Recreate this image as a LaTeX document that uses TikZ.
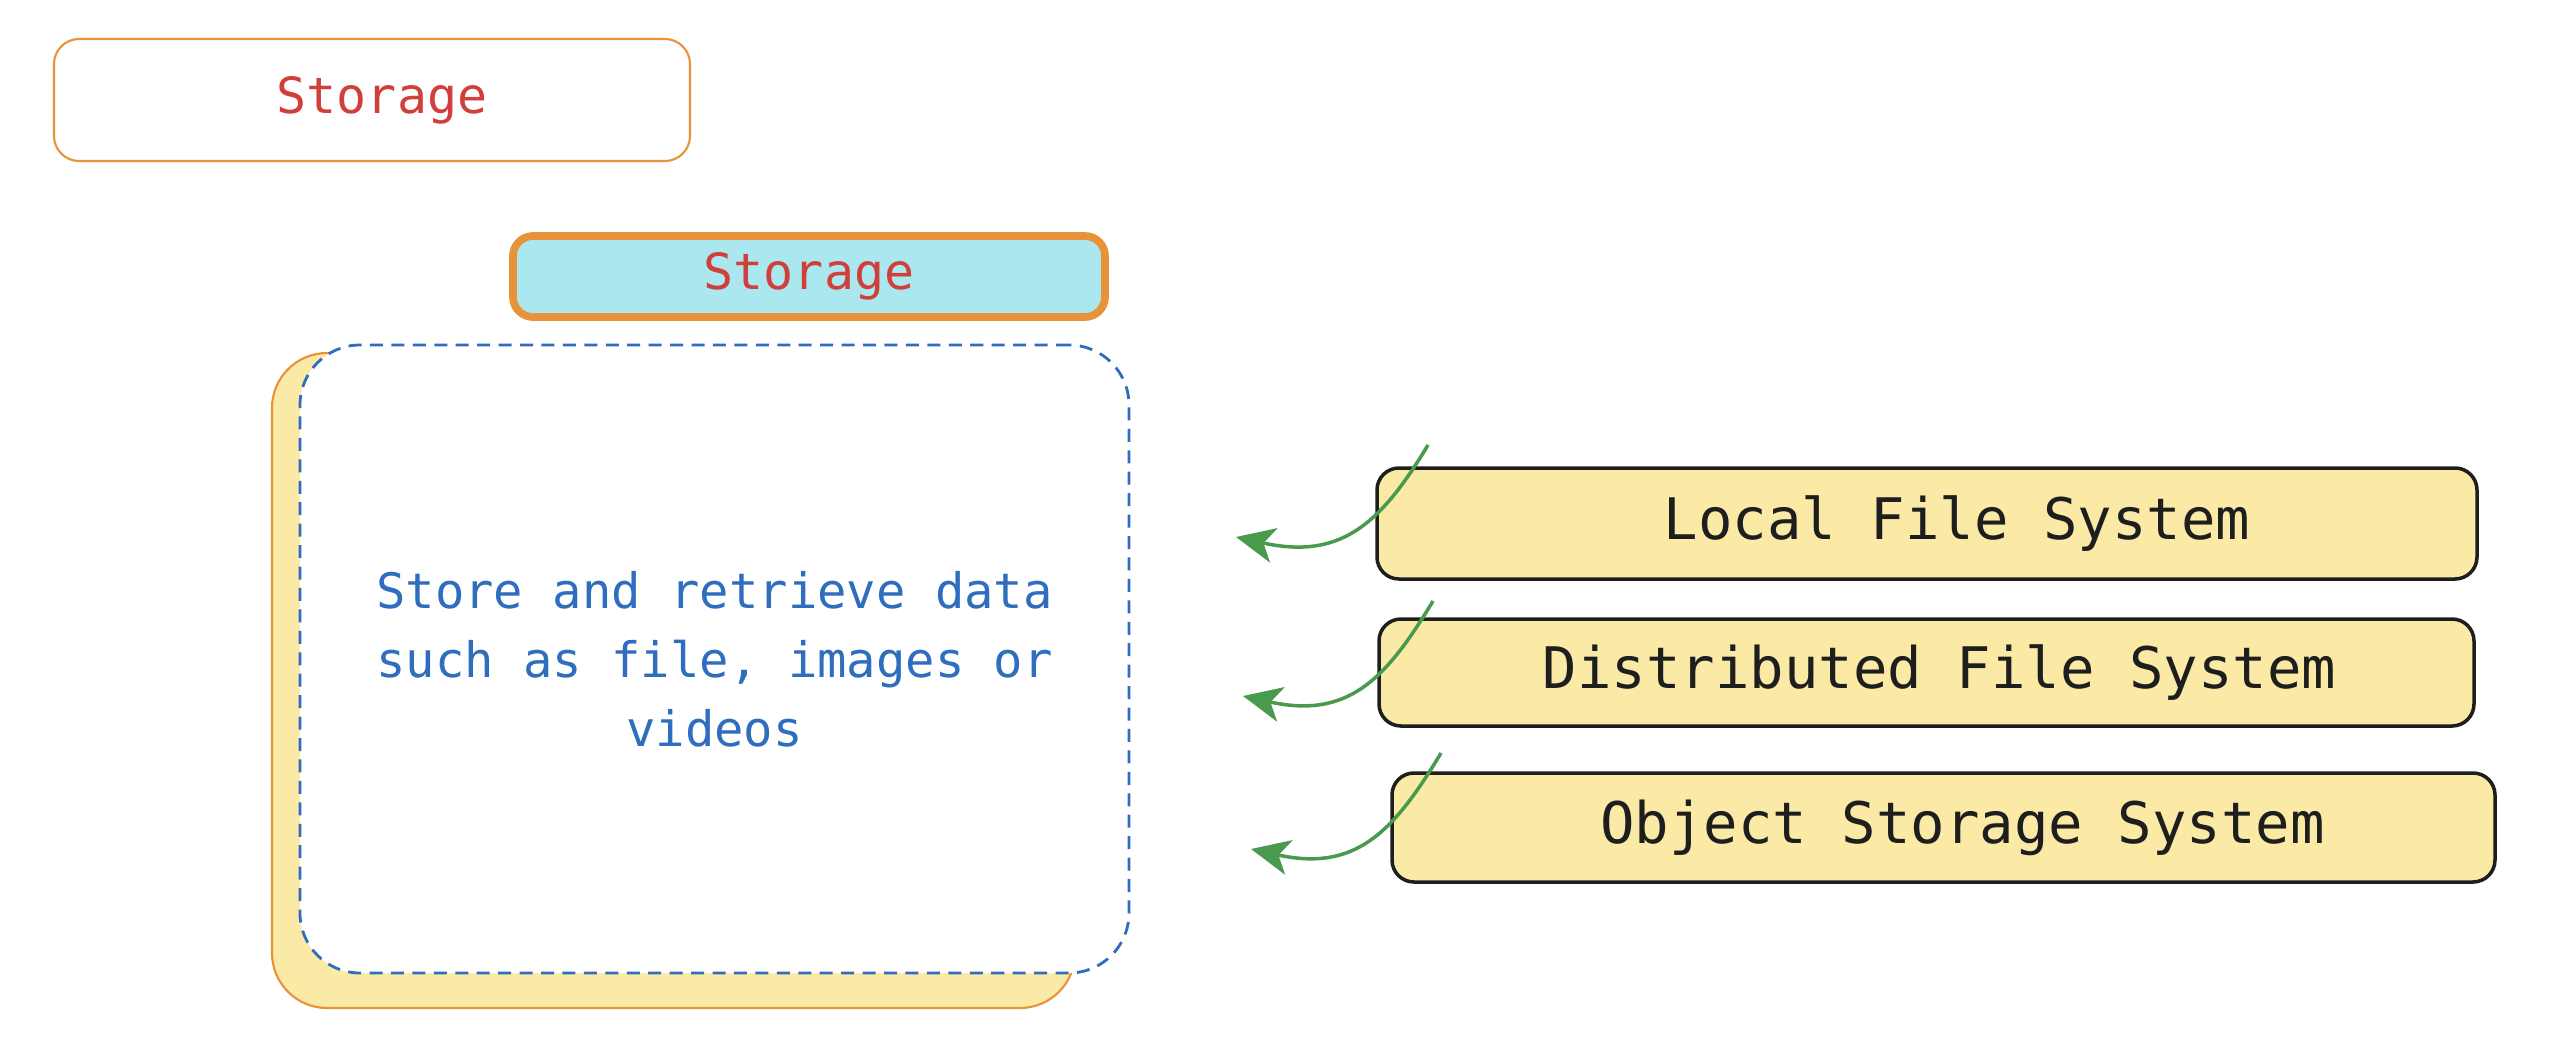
\documentclass[tikz,border=0pt]{standalone}
\usepackage{fontspec}
\setmainfont{DejaVu Sans Mono}
\usetikzlibrary{arrows.meta}
\usetikzlibrary{positioning}

\definecolor{stred}{HTML}{D13F3A}
\definecolor{storange}{HTML}{E8923A}
\definecolor{stcyan}{HTML}{ABE7EF}
\definecolor{styellow}{HTML}{FBE9A6}
\definecolor{stblue}{HTML}{2F6DBE}
\definecolor{stgreen}{HTML}{4A9A4E}
\definecolor{stink}{HTML}{1E1E1E}

\begin{document}
\begin{tikzpicture}[thick,>=Stealth,
    titlebox/.style={draw=storange, rounded corners=0.25cm, text=stred, font=\fontsize{14.2}{17}\selectfont},
    kindbox/.style={draw=stink, line width=1pt, fill=styellow, rounded corners=0.22cm,
      text=stink, font=\fontsize{16.3}{19}\selectfont},
    feed/.style={draw=stgreen, line width=1pt, -{Stealth[length=11pt,width=10pt,inset=3pt]}}]
    \useasboundingbox (0,0) rectangle (25.74,-10.62);

    \node[titlebox, line width=0.6pt, minimum width=6.36cm, minimum height=1.22cm] (title) at (3.72,-1.00) {\hspace*{0.2cm}Storage};
    \node[titlebox, line width=2.2pt, fill=stcyan, minimum width=5.92cm, minimum height=0.81cm, rounded corners=0.2cm] (head) at (8.09,-2.765) {Storage};

    \node[draw=storange, line width=0.6pt, fill=styellow, rounded corners=0.55cm,
      minimum width=8.03cm, minimum height=6.55cm] (back) at (6.735,-6.805) {};
    \node[draw=stblue, line width=0.8pt, dash pattern=on 3.7pt off 2.4pt, fill=white,
      rounded corners=0.6cm, minimum width=8.29cm, minimum height=6.28cm,
      text=stblue, align=center, font=\fontsize{13.9}{19.6}\selectfont] (desc) at (7.145,-6.59)
      {Store and retrieve data\\such as file, images or\\videos};

    % text sits a little right of the box centre
    \node[kindbox, minimum width=11.0cm, minimum height=1.11cm] (local) at (19.27,-5.235) {\hspace*{0.6cm}Local File System};
    \node[kindbox, minimum width=10.95cm, minimum height=1.07cm] (dist) at (19.265,-6.725) {\hspace*{0.26cm}Distributed File System};
    \node[kindbox, minimum width=11.03cm, minimum height=1.09cm] (object) at (19.435,-8.275) {\hspace*{0.38cm}Object Storage System};

    \coordinate (localfrom) at (14.28,-4.45);
    \coordinate (localto) at (12.36,-5.37);
    \coordinate (distfrom) at (14.33,-6.01);
    \coordinate (distto) at (12.43,-6.96);
    \coordinate (objectfrom) at (14.41,-7.53);
    \coordinate (objectto) at (12.51,-8.49);

    \draw[feed] (localfrom) .. controls (13.8,-5.25) and (13.4,-5.6) .. (localto);
    \draw[feed] (distfrom) .. controls (13.85,-6.81) and (13.47,-7.19) .. (distto);
    \draw[feed] (objectfrom) .. controls (13.93,-8.33) and (13.55,-8.72) .. (objectto);
  \end{tikzpicture}
\end{document}
